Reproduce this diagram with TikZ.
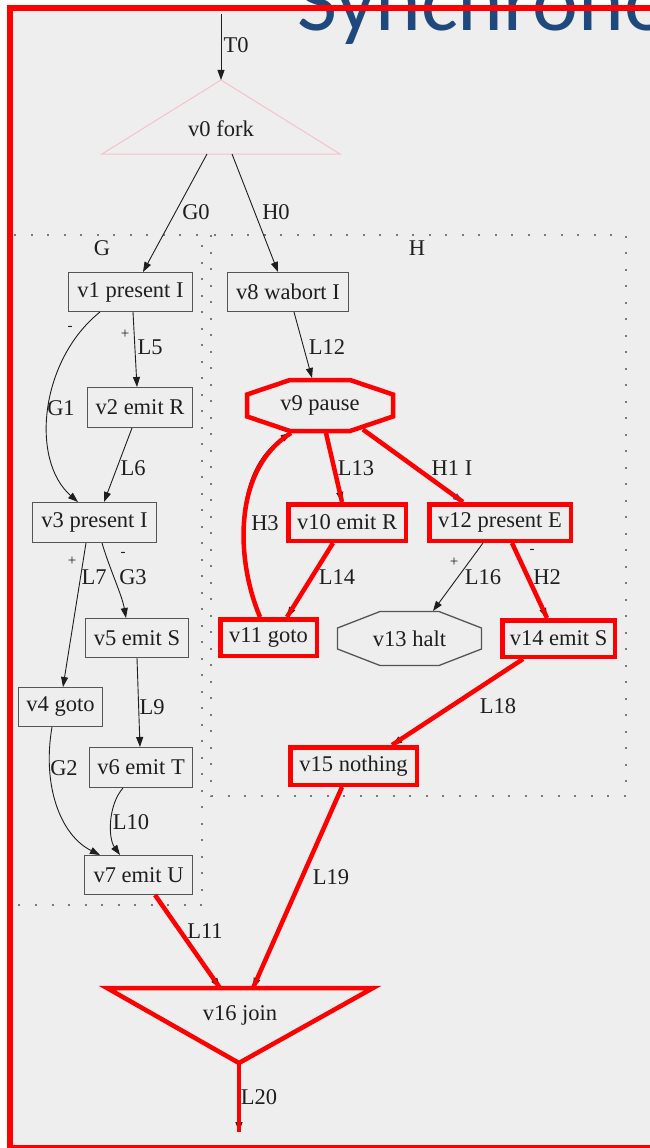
\documentclass[tikz,border=0pt]{standalone}
\usepackage{fontspec}
\setmainfont{Liberation Serif}
\newfontfamily\headfont{Carlito}
\usetikzlibrary{arrows.meta,calc}

\definecolor{panel}{HTML}{EEEEEE}
\definecolor{frame}{HTML}{FF0000}
\definecolor{ink}{HTML}{1E1E1E}
\definecolor{boxline}{HTML}{555555}
\definecolor{headblue}{HTML}{1F497D}
\definecolor{forkpink}{HTML}{F5C2CB}
\definecolor{dotgray}{HTML}{7A7A7A}
\definecolor{wireblue}{HTML}{3344FF}

\tikzset{
  every node/.style={text=ink, font=\fontsize{22.5}{24}\selectfont},
  gbox/.style={draw=boxline, line width=1.3pt, inner sep=0pt},
  rbox/.style={draw=frame, line width=4.5pt, inner sep=0pt},
  plain/.style={inner sep=0pt},
  lbl/.style={inner sep=0pt},
  sign/.style={inner sep=0pt, font=\fontsize{15}{16}\selectfont},
  cluster/.style={draw=dotgray, line width=1.8pt, dash pattern=on 2pt off 14.5pt},
  arr/.style={draw=ink, line width=0.9pt, -{Triangle[length=10pt,width=7pt]}},
  hot/.style={draw=frame, line width=4.5pt},
}
% black graphviz edge with a red highlight laid over it
\newcommand\hotlink[1]{\draw[arr] #1; \draw[hot] #1;}

\begin{document}
\begin{tikzpicture}[x=1pt,y=-1pt]
\useasboundingbox (0,0) rectangle (650,1148);
\clip (0,0) rectangle (650,1148);
\fill[white] (0,0) rectangle (650,1148);
\fill[panel] (10,8) rectangle (670,1170);

% clusters
\draw[cluster] (12,235) rectangle (202,905);
\draw[cluster] (211,235) rectangle (626,796);
\node[lbl] (labG) at (102,248) {G};
\node[lbl] (labH) at (417,248) {H};

% fork
\node[plain] (v0) at (221,129) {v0 fork};
\coordinate (v0top) at ($(v0)+(0,-49)$);
\draw[forkpink, line width=1pt] (v0top) -- ($(v0)+(119,25)$) -- ($(v0)+(-119,25)$) -- cycle;
\coordinate (in) at (221,14);

% thread G
\node[gbox, minimum width=123.7pt, minimum height=38.7pt] (v1) at (130.5,292) {v1 present I};
\node[gbox, minimum width=104.7pt, minimum height=39.7pt] (v2) at (140,407.5) {v2 emit R};
\node[gbox, minimum width=123.7pt, minimum height=39.7pt] (v3) at (94.5,522.5) {v3 present I};
\node[gbox, minimum width=83.7pt, minimum height=38.7pt] (v4) at (60.5,707) {v4 goto};
\node[gbox, minimum width=102.7pt, minimum height=38.7pt] (v5) at (137,638) {v5 emit S};
\node[gbox, minimum width=102.7pt, minimum height=39.7pt] (v6) at (141,767.5) {v6 emit T};
\node[gbox, minimum width=107.7pt, minimum height=38.7pt] (v7) at (138.5,875) {v7 emit U};

% thread H
\node[gbox, minimum width=120.7pt, minimum height=38.7pt] (v8) at (288,292) {v8 wabort I};
\node[plain] (v9) at (320,405.5) {v9 pause};
\draw[frame, line width=4.5pt, line join=miter]
  ($(v9)+(-30,-25.5)$) -- ($(v9)+(30,-25.5)$) -- ($(v9)+(73,-11)$) -- ($(v9)+(73,11)$)
  -- ($(v9)+(30,25.5)$) -- ($(v9)+(-30,25.5)$) -- ($(v9)+(-73,11)$) -- ($(v9)+(-73,-11)$) -- cycle;
\node[rbox, minimum width=117.5pt, minimum height=36.5pt] (v10) at (347,522.5) {v10 emit R};
\node[rbox, minimum width=96.5pt, minimum height=36.5pt] (v11) at (268.5,637.5) {v11 goto};
\node[rbox, minimum width=141.5pt, minimum height=36.5pt] (v12) at (500,522.5) {v12 present E};
\node[plain] (v13) at (409.5,638.5) {v13 halt};
\draw[boxline, line width=1.3pt]
  ($(v13)+(-29.5,-27)$) -- ($(v13)+(29.5,-27)$) -- ($(v13)+(72,-10.5)$) -- ($(v13)+(72,10.5)$)
  -- ($(v13)+(29.5,27)$) -- ($(v13)+(-29.5,27)$) -- ($(v13)+(-72,10.5)$) -- ($(v13)+(-72,-10.5)$) -- cycle;
\node[rbox, minimum width=112.5pt, minimum height=36.5pt] (v14) at (558.5,638.5) {v14 emit S};
\node[rbox, minimum width=126.5pt, minimum height=37.5pt] (v15) at (353.5,766) {v15 nothing};

% join
\node[plain] (v16) at (240,1015) {v16 join};
\coordinate (v16tip) at ($(v16)+(-1,48)$);
\draw[frame, line width=4.5pt, line join=miter]
  ($(v16)+(-133,-27)$) -- ($(v16)+(133,-27)$) -- (v16tip) -- cycle;
\coordinate (out) at (239,1132);

% edges of the fork and thread G
\draw[arr] (in) -- (v0top);
\draw[arr] ($(v0)+(-14,25)$) -- ([xshift=12.5pt]v1.north);
\draw[arr] ($(v0)+(11,25)$) -- ([xshift=-10pt]v8.north);
\draw[arr] ([xshift=-30.5pt]v1.south) .. controls (40,360) and (30,460) .. ([xshift=-16.5pt]v3.north);
\draw[arr] ([xshift=2.5pt]v1.south) -- ([xshift=-3pt]v2.north);
\draw[arr] ([xshift=-8pt]v2.south) -- ([xshift=9.5pt]v3.north);
\draw[arr] ([xshift=-8.5pt]v3.south) -- ([xshift=2.5pt]v4.north);
\draw[arr] ([xshift=7.5pt]v3.south) .. controls (110,570) and (122,595) .. ([xshift=-11pt]v5.north);
\draw[arr] (v5.south) -- ([xshift=-1pt]v6.north);
\draw[arr] ([xshift=-8.5pt]v4.south) .. controls (42,785) and (60,835) .. ([xshift=-38.5pt]v7.north);
\draw[arr] ([xshift=-18pt]v6.south) .. controls (108,805) and (108,838) .. ([xshift=-18.5pt]v7.north);

% edges of thread H
\draw[arr] ([xshift=6pt]v8.south) -- ($(v9)+(-8,-27.5)$);
\hotlink{($(v9)+(6,27.5)$) -- ([xshift=-5pt]v10.north)}
\draw[arr, draw=wireblue, xshift=-1.5pt, yshift=1.5pt] ($(v9)+(43,24)$) -- ([xshift=-37pt]v12.north);
\draw[hot] ($(v9)+(43,24)$) -- ([xshift=-37pt]v12.north);
\hotlink{([xshift=-8.5pt]v11.north) .. controls (236,560) and (232,470) .. ($(v9)+(-29,27.5)$)}
\hotlink{([xshift=-14pt]v10.south) -- ([xshift=18.5pt]v11.north)}
\draw[arr] ([xshift=-17pt]v12.south) -- ($(v13)+(23.5,-27.5)$);
\hotlink{([xshift=12pt]v12.south) -- ([xshift=-11.5pt]v14.north)}
\hotlink{([xshift=-35.5pt]v14.south) -- ([xshift=38.5pt]v15.north)}

% edges into and out of the join
\hotlink{([xshift=16.5pt]v7.south) -- ($(v16)+(-20,-27)$)}
\hotlink{([xshift=-11.5pt]v15.south) -- ($(v16)+(13,-27)$)}
\hotlink{(v16tip) -- (out)}

% edge labels
\node[lbl] (tT0) at (236,45) {T0};
\node[lbl] (tG0) at (196,212) {G0};
\node[lbl] (tH0) at (276,212) {H0};
\node[lbl] (tG1) at (61,408) {G1};
\node[lbl] (tL5) at (150,347) {L5};
\node[lbl] (tL6) at (133,468) {L6};
\node[lbl] (tL7) at (94,577) {L7};
\node[lbl] (tG3) at (133,577) {G3};
\node[lbl] (tL9) at (152,707) {L9};
\node[lbl] (tG2) at (64,768) {G2};
\node[lbl] (tL10) at (131,822) {L10};
\node[lbl] (tL11) at (205,931) {L11};
\node[lbl] (tL12) at (327,347) {L12};
\node[lbl] (tL13) at (356,468) {L13};
\node[lbl] (tH1) at (452,468) {H1 I};
\node[lbl] (tH3) at (265,523) {H3};
\node[lbl] (tL14) at (337,577) {L14};
\node[lbl] (tL16) at (483,577) {L16};
\node[lbl] (tH2) at (547,577) {H2};
\node[lbl] (tL18) at (498,706) {L18};
\node[lbl] (tL19) at (331,877) {L19};
\node[lbl] (tL20) at (259,1097) {L20};
\node[sign] (s1) at (70,328) {-};
\node[sign] (s2) at (125,334) {+};
\node[sign] (s3) at (72,561) {+};
\node[sign] (s4) at (123,554) {-};
\node[sign] (s5) at (454,562) {+};
\node[sign] (s6) at (532,551) {-};

% heading (runs off the slide edge) and slide frame
\node[anchor=base west, inner sep=0pt, text=headblue, font=\headfont\fontsize{87}{90}\selectfont] (head) at (297,31) {Synchronous};
\draw[frame, line width=6pt] (10,8) rectangle (720,1147.5);
\end{tikzpicture}
\end{document}
